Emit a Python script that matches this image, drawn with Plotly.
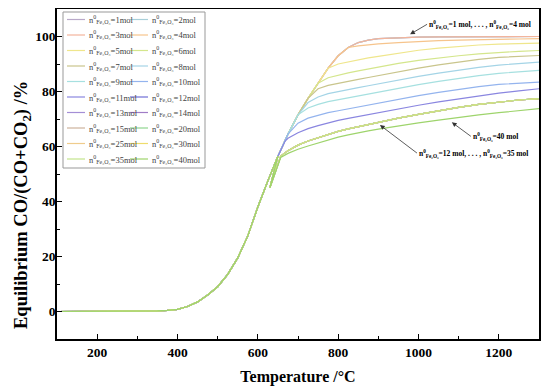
import plotly.graph_objects as go

# ---------------- data ----------------
T = [100, 150, 200, 250, 300, 350, 375, 400, 425, 450, 475, 500, 525, 550, 575,
     600, 625, 650, 675, 700, 725, 750, 775, 800, 825, 850, 875, 900,
     950, 1000, 1050, 1100, 1150, 1200, 1250, 1300]
MAIN = [0, 0, 0, 0, 0, 0.2, 0.4, 0.8, 1.8, 3.5, 6, 9, 13.5, 19.5, 27.5,
        38, 47.5, 56.5, 64.5, 71.5, 77.5, 83, 88.5, 93, 96, 97.8, 98.7, 99.2,
        99.6, 99.8, 99.85, 99.9, 99.9, 99.95, 99.95, 100]

N_MOL = [1, 2, 3, 4, 5, 6, 7, 8, 9, 10, 11, 12, 13, 14, 15, 20, 25, 30, 35, 40]
COLORS = ["#b9a9c9", "#a9cfd9", "#f3b49c", "#f6c48c", "#efe68c",
          "#d4e68c", "#c9c58c", "#a4d4e6", "#a6e0e0", "#94b4ee",
          "#8a86e0", "#6f6ed6", "#a48ed6", "#a07cc6", "#cdb39c",
          "#8fd68f", "#efcc8c", "#eedc6c", "#c4e48c", "#9ed46c"]

# temperature up to which each series follows the common curve
BRANCH_AT = {4: 825, 5: 775, 6: 750, 7: 725, 8: 700, 9: 700, 10: 675, 11: 650}

TAIL4_X = [850, 875, 900, 950, 1000, 1050, 1100, 1150, 1200, 1250, 1300]
TAIL4_Y = [96.6, 97.0, 97.3, 97.8, 98.2, 98.5, 98.7, 98.9, 99.0, 99.1, 99.2]
TAIL5_X = [800, 825, 850, 875, 900, 950, 1000, 1050, 1100, 1150, 1200, 1250, 1300]
TAIL5_Y = [90, 90.8, 91.5, 92.2, 92.8, 94, 95, 95.8, 96.4, 96.9, 97.2, 97.4, 97.6]
TAIL6_X = [775, 800, 825, 850, 875, 900, 950, 1000, 1050, 1100, 1150, 1200, 1250, 1300]
TAIL6_Y = [85, 86, 86.8, 87.5, 88.2, 88.9, 90.2, 91.3, 92.2, 93, 93.7, 94.2, 94.6, 94.9]
TAIL7_X = [750, 775, 800, 825, 850, 875, 900, 950, 1000, 1050, 1100, 1150, 1200, 1250, 1300]
TAIL7_Y = [81, 82.2, 83, 83.7, 84.4, 85.1, 85.8, 87.2, 88.5, 89.7, 90.8, 91.7, 92.4, 92.8, 93.1]
TAIL8_X = [725, 750, 775, 800, 825, 850, 875, 900, 950, 1000, 1050, 1100, 1150, 1200, 1250, 1300]
TAIL8_Y = [76, 78, 79.2, 80, 80.7, 81.4, 82.1, 82.8, 84.2, 85.5, 86.7, 87.8, 88.8, 89.6, 90.2, 90.7]
TAIL9_X = [725, 750, 775, 800, 825, 850, 875, 900, 950, 1000, 1050, 1100, 1150, 1200, 1250, 1300]
TAIL9_Y = [74, 75.3, 76.3, 77, 77.7, 78.4, 79.1, 79.8, 81.2, 82.5, 83.7, 84.8, 85.8, 86.6, 87.2, 87.7]
TAIL10_X = [700, 725, 750, 775, 800, 825, 850, 875, 900, 950, 1000, 1050, 1100, 1150, 1200, 1250, 1300]
TAIL10_Y = [68.5, 70.3, 71.4, 72.3, 73, 73.7, 74.4, 75.1, 75.8, 77.2, 78.5, 79.7, 80.8, 81.8, 82.6, 83.1, 83.4]
TAIL11_X = [668, 675, 700, 725, 750, 775, 800, 825, 850, 875, 900, 950, 1000, 1050, 1100, 1150, 1200, 1250, 1300]
TAIL11_Y = [62, 63, 65, 66.5, 67.6, 68.6, 69.5, 70.2, 70.9, 71.6, 72.3, 73.7, 75, 76.2, 77.3, 78.4, 79.4, 80.2, 81]
# n = 12 ... 35 mol (coinciding) and n = 40 mol, with the kink near 630-660 °C
BUNDLE_X = [630, 657, 675, 700, 725, 750, 775, 800, 825, 850, 875, 900, 950, 1000, 1050, 1100, 1150, 1200, 1250, 1300]
BUNDLE_Y = [45, 56.5, 58.5, 60.5, 62, 63.2, 64.4, 65.5, 66.4, 67.2, 68, 68.8, 70.3, 71.7, 73, 74.2, 75.3, 76.2, 76.9, 77.4]
TAIL40_Y = [45, 56, 57.5, 59, 60.2, 61.3, 62.4, 63.4, 64.2, 65, 65.7, 66.3, 67.5, 68.6, 69.6, 70.6, 71.5, 72.3, 73.1, 73.8]

TAILS = {4: (TAIL4_X, TAIL4_Y), 5: (TAIL5_X, TAIL5_Y), 6: (TAIL6_X, TAIL6_Y),
         7: (TAIL7_X, TAIL7_Y), 8: (TAIL8_X, TAIL8_Y), 9: (TAIL9_X, TAIL9_Y),
         10: (TAIL10_X, TAIL10_Y), 11: (TAIL11_X, TAIL11_Y), 40: (BUNDLE_X, TAIL40_Y)}
for n in (12, 13, 14, 15, 20, 25, 30, 35):
    TAILS[n] = (BUNDLE_X, BUNDLE_Y)
for n in (12, 13, 14, 15, 20, 25, 30, 35, 40):
    BRANCH_AT[n] = 650


def series(n):
    if n not in TAILS:
        return T, MAIN
    lim = BRANCH_AT[n]
    xs = [t for t in T if t <= lim]
    ys = MAIN[:len(xs)]
    tx, ty = TAILS[n]
    return xs + tx, ys + ty


FONT = "Liberation Serif"
SUB = "n<sup>0</sup><sub>Fe₂O₃</sub>"

# ---------------- layout geometry ----------------
# the page body has an 8 px default margin, so the figure is 8 px smaller
OFF = 8
W, H = 550 - OFF, 392 - OFF
ML, MR, MT, MB = 57 - OFF, 11, 8 - OFF + 1, 53
PW, PH = W - ML - MR, H - MT - MB


def px_x(p):  # window pixel -> paper x
    return (p - OFF - ML) / PW


def px_y(p):  # window pixel -> paper y
    return (H - MB - (p - OFF)) / PH


fig = go.Figure()
for n, c in zip(N_MOL, COLORS):
    x, y = series(n)
    fig.add_trace(go.Scatter(
        x=x, y=y, mode="lines", line=dict(color=c, width=1.2),
        name=f"{SUB}={n}mol", showlegend=False,
    ))

axis_common = dict(
    showline=True, linecolor="black", linewidth=1.6, mirror=True,
    ticks="inside", ticklen=5, tickwidth=1.3, tickcolor="black",
    showgrid=False, zeroline=False, automargin=False,
    tickfont=dict(family=FONT, size=13.5, color="black", weight="bold"),
    minor=dict(ticks="inside", ticklen=3, tickwidth=1.1, tickcolor="black"),
)

fig.update_layout(
    width=W, height=H,
    margin=dict(l=ML, r=MR, t=MT, b=MB),
    plot_bgcolor="white", paper_bgcolor="white",
    font=dict(family=FONT, color="black"),
    showlegend=False,
    xaxis=dict(range=[100, 1300], tickvals=[200, 400, 600, 800, 1000, 1200],
               minor_dtick=100, minor_tick0=100,
               title=dict(text="<b>Temperature /°C</b>", standoff=12,
                          font=dict(family=FONT, size=16, color="black")),
               **axis_common),
    yaxis=dict(range=[-10, 110], tickvals=[0, 20, 40, 60, 80, 100],
               minor_dtick=10, minor_tick0=0, ticklabelstandoff=-3,
               **axis_common),
)

# y-axis title (placed as rotated text so it sits close to the tick labels)
fig.add_annotation(xref="paper", yref="paper", x=px_x(22), y=px_y(205),
                   xanchor="center", yanchor="middle", textangle=-90, showarrow=False,
                   text="<b>Equilibrium CO/(CO+CO<sub>2</sub>) /%</b>",
                   font=dict(family=FONT, size=18.5, color="black"))

# ---------------- legend (two columns, row-major, drawn as a key box) ----------------
fig.add_shape(type="rect", xref="paper", yref="paper",
              x0=px_x(63), x1=px_x(205), y0=px_y(168), y1=px_y(12),
              line=dict(color="#999", width=1), fillcolor="rgba(0,0,0,0)")
SAMPLE_X = [(67, 85), (130, 148)]
TEXT_X = [87, 150]
for i, (n, c) in enumerate(zip(N_MOL, COLORS)):
    row, col = divmod(i, 2)
    yy = px_y(19.5 + 15.5 * row)
    fig.add_shape(type="line", xref="paper", yref="paper",
                  x0=px_x(SAMPLE_X[col][0]), x1=px_x(SAMPLE_X[col][1]), y0=yy, y1=yy,
                  line=dict(color=c, width=1.2))
    fig.add_annotation(xref="paper", yref="paper", x=px_x(TEXT_X[col]), y=yy,
                       xanchor="left", yanchor="middle", showarrow=False,
                       text=f"{SUB}={n}mol",
                       font=dict(family=FONT, size=8.5, color="#444"))

ann_font = dict(family=FONT, size=7.5, color="black", weight="bold")
fig.add_annotation(x=979, y=100.8, ax=17, ay=-10, xanchor="left", yanchor="middle",
                   text=f"{SUB}=1 mol, . . . , {SUB}=4 mol", font=ann_font,
                   showarrow=True, arrowhead=2, arrowsize=1.2, arrowwidth=0.8, arrowcolor="#333")
fig.add_annotation(x=1083, y=68.8, ax=19, ay=14, xanchor="left", yanchor="middle",
                   text=f"{SUB}=40 mol", font=ann_font,
                   showarrow=True, arrowhead=2, arrowsize=1.2, arrowwidth=0.8, arrowcolor="#333")
fig.add_annotation(x=904, y=67.8, ax=37, ay=28, xanchor="left", yanchor="middle",
                   text=f"{SUB}=12 mol, . . . , {SUB}=35 mol", font=ann_font,
                   showarrow=True, arrowhead=2, arrowsize=1.2, arrowwidth=0.8, arrowcolor="#333")

fig.write_html("out.html")
